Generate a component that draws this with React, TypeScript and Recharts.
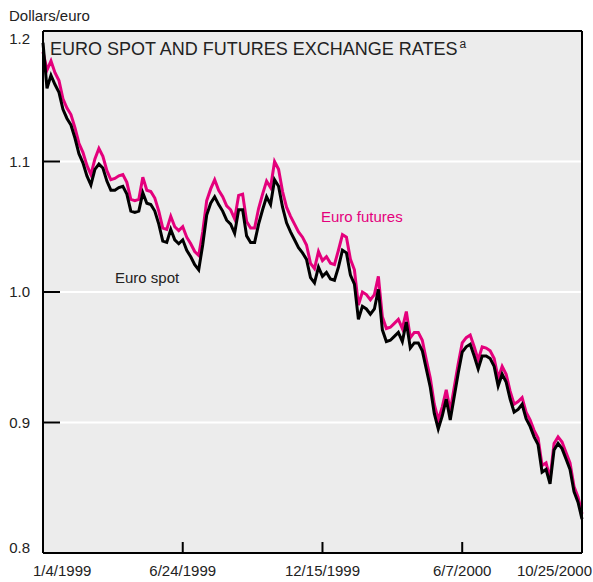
import React from 'react';
import { LineChart, Line, XAxis, YAxis, CartesianGrid, ReferenceLine } from 'recharts';

// Dollars per euro (about one point every ~4 trading days)
const spot = [
  1.191, 1.156, 1.166, 1.159, 1.153, 1.140, 1.133, 1.128, 1.118, 1.106,
  1.099, 1.089, 1.082, 1.094, 1.098, 1.095, 1.085, 1.078, 1.078, 1.080,
  1.081, 1.075, 1.062, 1.061, 1.062, 1.076, 1.068, 1.067, 1.062, 1.052,
  1.039, 1.038, 1.048, 1.040, 1.037, 1.040, 1.032, 1.027, 1.021, 1.017,
  1.036, 1.059, 1.068, 1.073, 1.067, 1.062, 1.055, 1.052, 1.045, 1.063,
  1.063, 1.043, 1.038, 1.038, 1.052, 1.063, 1.073, 1.067, 1.086, 1.081,
  1.065, 1.053, 1.046, 1.040, 1.034, 1.030, 1.025, 1.011, 1.007, 1.019,
  1.012, 1.015, 1.010, 1.009, 1.019, 1.032, 1.030, 1.013, 1.006, 0.979,
  0.989, 0.987, 0.983, 0.987, 1.002, 0.971, 0.962, 0.963, 0.966, 0.969,
  0.962, 0.977, 0.957, 0.961, 0.961, 0.955, 0.941, 0.927, 0.907, 0.895,
  0.905, 0.918, 0.902, 0.920, 0.938, 0.954, 0.958, 0.960, 0.951, 0.941,
  0.951, 0.951, 0.949, 0.943, 0.928, 0.937, 0.931, 0.918, 0.908, 0.910,
  0.914, 0.903, 0.897, 0.889, 0.883, 0.862, 0.864, 0.853, 0.879, 0.884,
  0.880, 0.872, 0.864, 0.847, 0.839, 0.826,
];

const futures = [
  1.184, 1.170, 1.177, 1.168, 1.162, 1.148, 1.141, 1.136, 1.126, 1.114,
  1.107, 1.097, 1.090, 1.102, 1.110, 1.104, 1.093, 1.086, 1.087, 1.089,
  1.090, 1.084, 1.071, 1.070, 1.071, 1.088, 1.078, 1.077, 1.072, 1.062,
  1.049, 1.048, 1.058, 1.050, 1.047, 1.050, 1.042, 1.037, 1.031, 1.028,
  1.046, 1.070, 1.079, 1.086, 1.078, 1.073, 1.066, 1.063, 1.056, 1.074,
  1.075, 1.054, 1.049, 1.049, 1.064, 1.075, 1.085, 1.080, 1.100, 1.094,
  1.077, 1.065, 1.058, 1.052, 1.046, 1.042, 1.036, 1.022, 1.018, 1.031,
  1.024, 1.027, 1.022, 1.021, 1.032, 1.044, 1.042, 1.025, 1.017, 0.990,
  1.000, 0.998, 0.994, 0.998, 1.012, 0.981, 0.972, 0.973, 0.976, 0.979,
  0.972, 0.985, 0.965, 0.969, 0.969, 0.963, 0.948, 0.934, 0.914, 0.902,
  0.912, 0.925, 0.909, 0.927, 0.945, 0.961, 0.965, 0.967, 0.958, 0.948,
  0.958, 0.957, 0.955, 0.949, 0.934, 0.943, 0.937, 0.924, 0.914, 0.916,
  0.919, 0.908, 0.902, 0.894, 0.888, 0.867, 0.869, 0.857, 0.884, 0.889,
  0.885, 0.877, 0.869, 0.851, 0.843, 0.830,
];

const xTickIndex = [0, 35, 70, 105, 135];
const xTickLabels = ['1/4/1999', '6/24/1999', '12/15/1999', '6/7/2000', '10/25/2000'];
const yTicks = [0.8, 0.9, 1.0, 1.1, 1.2];

const FONT = '"Liberation Sans", Arial, sans-serif';
const PINK = '#e4007c';
const INK = '#222';

const chartData = spot.map((s, i) => ({ i, spot: s, futures: futures[i] }));
const lastIdx = spot.length - 1;

const XTick = (props: any) => {
  const { x, y, payload } = props;
  const k = xTickIndex.indexOf(payload.value);
  const label = xTickLabels[k] ?? '';
  let anchor = 'middle';
  let tx = x;
  if (k === 0) { anchor = 'start'; tx = x - 10; }
  if (k === xTickIndex.length - 1) { anchor = 'end'; tx = x + 10; }
  return (
    <g>
      {k > 0 && k < xTickIndex.length - 1 && (
        <line x1={x} x2={x} y1={y} y2={y - 11} stroke="#000" strokeWidth={2} />
      )}
      <text x={tx} y={y + 23} textAnchor={anchor} fontSize={15} fontFamily={FONT} fill={INK}>
        {label}
      </text>
    </g>
  );
};

const YTick = (props: any) => {
  const { x, y, payload } = props;
  const v = payload.value;
  // top and bottom labels are nudged inside the frame, as in the original
  let dy = 5;
  if (v >= 1.2) dy = 13;
  if (v <= 0.8) dy = 0;
  return (
    <g>
      <line x1={x} x2={x + 17} y1={y} y2={y} stroke="#000" strokeWidth={2} />
      <text x={x - 13} y={y + dy} textAnchor="end" fontSize={15} fontFamily={FONT} fill={INK}>
        {v.toFixed(1)}
      </text>
    </g>
  );
};

const txt = (extra: React.CSSProperties): React.CSSProperties => ({
  position: 'absolute',
  fontFamily: FONT,
  lineHeight: 1,
  whiteSpace: 'nowrap',
  color: INK,
  ...extra,
});

export default function App() {
  return (
    <div style={{ position: 'absolute', left: 0, top: 0, width: 593, height: 582, background: '#fff' }}>
      <LineChart
        width={593}
        height={582}
        data={chartData}
        margin={{ top: 31, right: 11, left: 0, bottom: 0 }}
      >
        <CartesianGrid vertical={false} stroke="#fff" strokeWidth={2} fill="#ececec" fillOpacity={1} />
        <XAxis
          dataKey="i"
          type="number"
          domain={[0, lastIdx]}
          ticks={xTickIndex}
          height={29}
          axisLine={false}
          tickLine={false}
          tickSize={0}
          tickMargin={0}
          interval={0}
          tick={<XTick />}
        />
        <YAxis
          type="number"
          domain={[0.8, 1.2]}
          ticks={yTicks}
          width={43}
          axisLine={false}
          tickLine={false}
          tickSize={0}
          tickMargin={0}
          interval={0}
          tick={<YTick />}
        />
        <Line dataKey="futures" type="linear" stroke={PINK} strokeWidth={3} dot={false} isAnimationActive={false} />
        <Line dataKey="spot" type="linear" stroke="#000" strokeWidth={3} dot={false} isAnimationActive={false} />
        <ReferenceLine y={1.2} stroke="#000" strokeWidth={2} />
        <ReferenceLine y={0.8} stroke="#000" strokeWidth={2} />
        <ReferenceLine x={0} stroke="#000" strokeWidth={2} />
        <ReferenceLine x={lastIdx} stroke="#000" strokeWidth={2} />
      </LineChart>
      <div style={txt({ left: 9, top: 8, fontSize: 15 })}>Dollars/euro</div>
      <div style={txt({ left: 50, top: 40, fontSize: 18 })}>
        EURO SPOT AND FUTURES EXCHANGE RATES
        <span style={{ fontSize: 12, position: 'relative', top: -7, marginLeft: 2 }}>a</span>
      </div>
      <div style={txt({ left: 321, top: 209, fontSize: 15, color: PINK })}>Euro futures</div>
      <div style={txt({ left: 115, top: 270, fontSize: 15 })}>Euro spot</div>
    </div>
  );
}
